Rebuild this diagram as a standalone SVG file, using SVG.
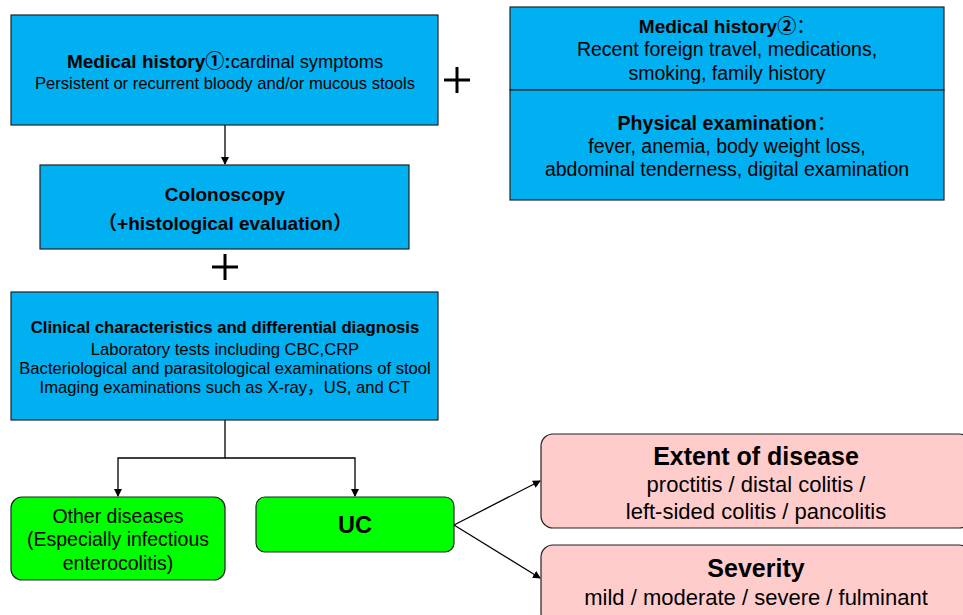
<svg xmlns="http://www.w3.org/2000/svg" width="963" height="615" viewBox="0 0 963 615">
<defs>
<marker id="arr" markerWidth="8" markerHeight="8" refX="7" refY="4" orient="auto" markerUnits="userSpaceOnUse">
<path d="M0,0 L8,4 L0,8 Z" fill="#000"/>
</marker>
<style>
.blue{fill:#00B0F0;stroke:#222;stroke-width:1.2}
.green{fill:#00FF00;stroke:#222;stroke-width:1.2}
.pink{fill:#FFCCCC;stroke:#222;stroke-width:1.2}
text{font-family:"Liberation Sans","DejaVu Sans","Noto Sans CJK SC",sans-serif;fill:#000;text-anchor:middle}
.b{font-weight:bold}
.cjk{font-family:"Noto Sans CJK SC",sans-serif;font-weight:bold}
.con{fill:none;stroke:#000;stroke-width:1.3}
.plus{stroke:#000;stroke-width:3}
</style>
</defs>
<g id="connectors">
<line class="con" x1="225" y1="125" x2="225" y2="164" marker-end="url(#arr)"/>
<polyline class="con" points="225,420 225,458 118,458 118,496" marker-end="url(#arr)"/>
<polyline class="con" points="225,458 355,458 355,496" marker-end="url(#arr)"/>
<line class="con" x1="454" y1="525" x2="540" y2="481" marker-end="url(#arr)"/>
<line class="con" x1="454" y1="525" x2="540" y2="578" marker-end="url(#arr)"/>
</g>
<g id="plus1"><line class="plus" x1="444" y1="80" x2="470" y2="80"/><line class="plus" x1="457" y1="67" x2="457" y2="93"/></g>
<g id="plus2"><line class="plus" x1="212" y1="267" x2="238" y2="267"/><line class="plus" x1="225" y1="254" x2="225" y2="280"/></g>
<g id="history1">
<rect class="blue" x="11" y="15" width="427" height="110"/>
<text x="225" y="68" font-size="18.3"><tspan class="b" font-size="19">Medical history</tspan><tspan class="cjk" font-size="19">①</tspan><tspan class="b" font-size="19">:</tspan>cardinal symptoms</text>
<text x="225" y="89" font-size="16.6">Persistent or recurrent bloody and/or mucous stools</text>
</g>
<g id="history2">
<rect class="blue" x="510" y="7" width="434" height="83"/>
<text x="727" y="33" font-size="19"><tspan class="b">Medical history</tspan><tspan class="cjk">②</tspan>：</text>
<text x="727" y="56" font-size="19.5">Recent foreign travel, medications,</text>
<text x="727" y="80" font-size="19.5">smoking, family history</text>
</g>
<g id="physical">
<rect class="blue" x="510" y="90" width="434" height="110"/>
<text x="727" y="130" font-size="19.6"><tspan class="b">Physical examination</tspan>：</text>
<text x="727" y="153" font-size="19.5">fever, anemia, body weight loss,</text>
<text x="727" y="176" font-size="19.5">abdominal tenderness, digital examination</text>
</g>
<g id="colonoscopy">
<rect class="blue" x="40" y="165" width="369" height="84"/>
<text class="b" x="225" y="201" font-size="19">Colonoscopy</text>
<text class="b" x="225" y="230" font-size="19">（+histological evaluation）</text>
</g>
<g id="clinical">
<rect class="blue" x="11" y="292" width="427" height="128"/>
<text class="b" x="225" y="333" font-size="16.7">Clinical characteristics and differential diagnosis</text>
<text x="225" y="355" font-size="16.6">Laboratory tests including CBC,CRP</text>
<text x="225" y="374" font-size="16.6">Bacteriological and parasitological examinations of stool</text>
<text x="225" y="393" font-size="16.6">Imaging examinations such as X-ray，US, and CT</text>
</g>
<g id="other">
<rect class="green" x="11" y="497" width="214" height="83" rx="11"/>
<text x="118" y="523" font-size="19.5">Other diseases</text>
<text x="118" y="546" font-size="19.5">(Especially infectious</text>
<text x="118" y="570" font-size="19.5">enterocolitis)</text>
</g>
<g id="uc">
<rect class="green" x="256" y="497" width="198" height="55" rx="9"/>
<text class="b" x="355" y="533" font-size="23.5">UC</text>
</g>
<g id="extent">
<rect class="pink" x="541" y="434" width="430" height="94" rx="12"/>
<text class="b" x="756" y="465" font-size="25">Extent of disease</text>
<text x="756" y="492" font-size="22">proctitis / distal colitis /</text>
<text x="756" y="519" font-size="22">left-sided colitis / pancolitis</text>
</g>
<g id="severity">
<rect class="pink" x="541" y="545" width="430" height="80" rx="12"/>
<text class="b" x="756" y="577" font-size="25">Severity</text>
<text x="756" y="605" font-size="22">mild / moderate / severe / fulminant</text>
</g>
</svg>
